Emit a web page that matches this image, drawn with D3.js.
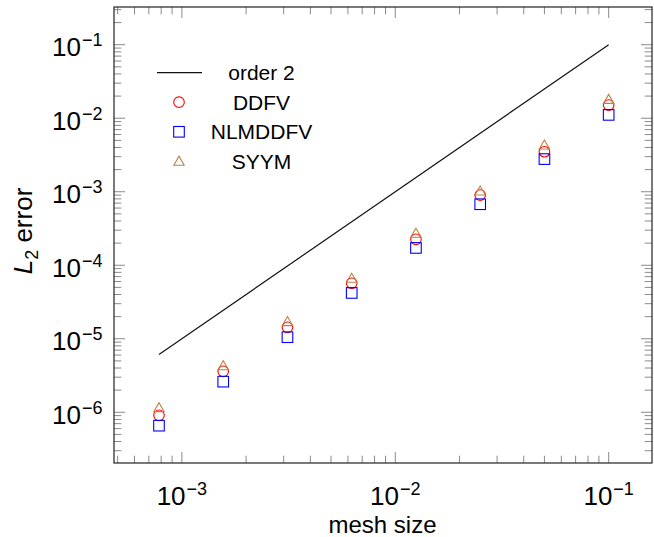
<!DOCTYPE html>
<html>
<head>
<meta charset="utf-8">
<script src="https://cdn.jsdelivr.net/npm/d3@7"></script>
<style>
  body { margin: 0; background: #fff; }
  svg { font-family: "Liberation Sans", Arial, sans-serif; }
</style>
</head>
<body>
<div id="chart"></div>
<script>
// Data
const meshSize = [0.1, 0.05, 0.025, 0.0125, 0.00625, 0.003125, 0.0015625, 0.00078125];
const ddfv     = [1.51e-2, 3.5e-3, 9.0e-4, 2.25e-4, 5.69e-5, 1.43e-5, 3.61e-6, 9.1e-7];
const nlmddfv  = [1.11e-2, 2.78e-3, 6.76e-4, 1.72e-4, 4.2e-5, 1.05e-5, 2.61e-6, 6.57e-7];
const syym     = [1.75e-2, 4.19e-3, 9.9e-4, 2.64e-4, 6.44e-5, 1.66e-5, 4.17e-6, 1.12e-6];
const orderX = [0.00078125, 0.1];
const orderY = [6.1035e-6, 0.1];
const xTickExp = [-3, -2, -1];
const yTickExp = [-6, -5, -4, -3, -2, -1];
const seriesNames = ["order 2", "DDFV", "NLMDDFV", "SYYM"];

const W = 654, H = 537;
const plotLeft = 114, plotRight = 652, plotTop = 7, plotBottom = 463;

const svg = d3.select("#chart").append("svg")
    .attr("width", W)
    .attr("height", H);

const x = d3.scaleLog()
    .domain([Math.pow(10, -3.318), Math.pow(10, -0.797)])
    .range([plotLeft, plotRight]);

const y = d3.scaleLog()
    .domain([Math.pow(10, -6.69), Math.pow(10, -0.487)])
    .range([plotBottom, plotTop]);

// ticks (inside, on all four sides)
function logTicks(scale) {
    const [a, b] = scale.domain();
    const out = [];
    for (let e = Math.floor(Math.log10(a)); e <= Math.ceil(Math.log10(b)); e++) {
        for (let m = 1; m <= 9; m++) {
            const v = m * Math.pow(10, e);
            if (v >= a && v <= b) out.push({v: v, major: m === 1});
        }
    }
    return out;
}

const ticks = svg.append("g").attr("stroke", "#8a8a8a").attr("stroke-width", 1);
logTicks(x).forEach(t => {
    const px = x(t.v), len = t.major ? 11 : 7.3;
    ticks.append("line").attr("x1", px).attr("x2", px).attr("y1", plotBottom).attr("y2", plotBottom - len);
    ticks.append("line").attr("x1", px).attr("x2", px).attr("y1", plotTop).attr("y2", plotTop + len);
});
logTicks(y).forEach(t => {
    const py = y(t.v), len = t.major ? 11 : 7.3;
    ticks.append("line").attr("x1", plotLeft).attr("x2", plotLeft + len).attr("y1", py).attr("y2", py);
    ticks.append("line").attr("x1", plotRight).attr("x2", plotRight - len).attr("y1", py).attr("y2", py);
});

// frame
svg.append("rect")
    .attr("x", plotLeft).attr("y", plotTop)
    .attr("width", plotRight - plotLeft).attr("height", plotBottom - plotTop)
    .attr("fill", "none")
    .attr("stroke", "#222")
    .attr("stroke-width", 1.2);

// tick labels
xTickExp.forEach(e => {
    const t = svg.append("text")
        .attr("x", x(Math.pow(10, e)))
        .attr("y", 505)
        .attr("text-anchor", "middle")
        .attr("font-size", 26);
    t.append("tspan").text("10");
    t.append("tspan").attr("dy", -10).attr("dx", 1).attr("font-size", 18).text("\u2212" + (-e));
});
yTickExp.forEach(e => {
    const t = svg.append("text")
        .attr("x", 102.5)
        .attr("y", y(Math.pow(10, e)) + 11.6)
        .attr("text-anchor", "end")
        .attr("font-size", 26);
    t.append("tspan").text("10");
    t.append("tspan").attr("dy", -10).attr("dx", 1).attr("font-size", 18).text("\u2212" + (-e));
});

// axis labels
svg.append("text")
    .attr("x", (plotLeft + plotRight) / 2 - 0.5)
    .attr("y", 533)
    .attr("text-anchor", "middle")
    .attr("font-size", 24)
    .text("mesh size");

const yl = svg.append("text")
    .attr("transform", "translate(32,231) rotate(-90)")
    .attr("text-anchor", "middle")
    .attr("font-size", 26);
yl.append("tspan").attr("font-style", "italic").text("L");
yl.append("tspan").attr("dy", 6).attr("font-size", 18).text("2");
yl.append("tspan").attr("dy", -6).text(" error");

// order 2 line
const line = d3.line().x(d => x(d[0])).y(d => y(d[1]));
svg.append("path")
    .datum(d3.zip(orderX, orderY))
    .attr("d", line)
    .attr("fill", "none")
    .attr("stroke", "#111")
    .attr("stroke-width", 1.2);

// markers
const r = 5.3;
function drawMarker(g, kind, cx, cy) {
    if (kind === "circle") {
        g.append("circle").attr("cx", cx).attr("cy", cy).attr("r", r)
            .attr("fill", "none").attr("stroke", "#ff0000").attr("stroke-width", 1.1);
    } else if (kind === "square") {
        g.append("rect").attr("x", cx - r).attr("y", cy - r).attr("width", 2 * r).attr("height", 2 * r)
            .attr("fill", "none").attr("stroke", "#0000ff").attr("stroke-width", 1.1);
    } else {
        const rt = 6;
        const pts = [[cx, cy - rt], [cx - rt * Math.sqrt(3) / 2, cy + rt / 2], [cx + rt * Math.sqrt(3) / 2, cy + rt / 2]];
        g.append("polygon").attr("points", pts.map(p => p.join(",")).join(" "))
            .attr("fill", "none").attr("stroke", "#bf8040").attr("stroke-width", 1.1);
    }
}

const series = [
    {vals: ddfv, kind: "circle"},
    {vals: nlmddfv, kind: "square"},
    {vals: syym, kind: "triangle"}
];
const marks = svg.append("g");
series.forEach(s => {
    meshSize.forEach((h, i) => drawMarker(marks, s.kind, x(h), y(s.vals[i])));
});

// legend
const legend = svg.append("g");
const rowY = [72.7, 102.2, 131.8, 161.2];
legend.append("line")
    .attr("x1", 157).attr("x2", 202)
    .attr("y1", rowY[0]).attr("y2", rowY[0])
    .attr("stroke", "#111").attr("stroke-width", 1.2);
drawMarker(legend, "circle", 179, rowY[1]);
drawMarker(legend, "square", 179, rowY[2]);
drawMarker(legend, "triangle", 179, rowY[3] + 1);
seriesNames.forEach((name, i) => {
    legend.append("text")
        .attr("x", 261.5)
        .attr("y", rowY[i] + 7.3)
        .attr("text-anchor", "middle")
        .attr("font-size", 21)
        .text(name);
});
</script>
</body>
</html>
